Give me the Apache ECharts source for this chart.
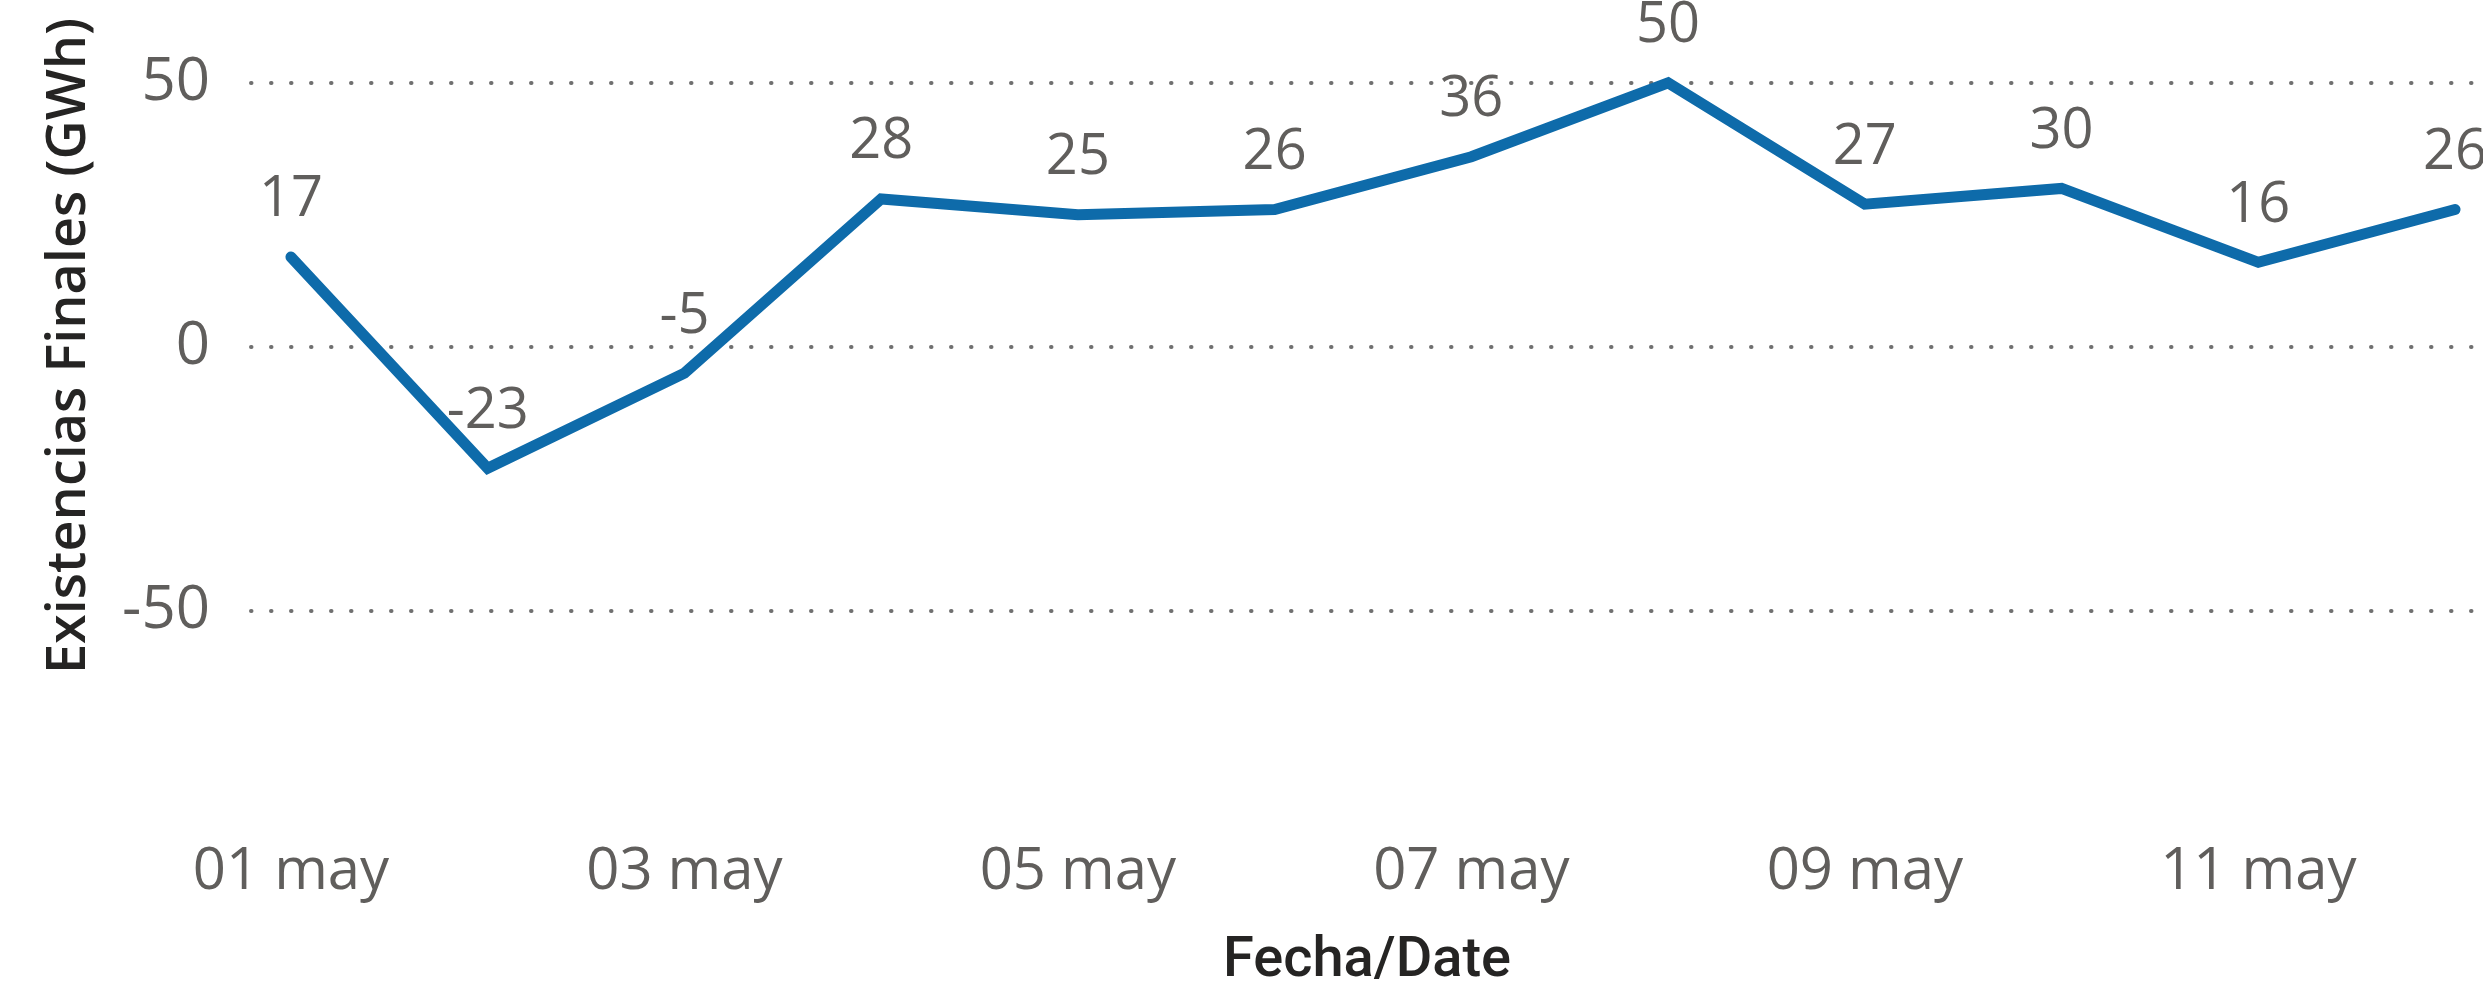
<!DOCTYPE html>
<html>
<head>
<meta charset="utf-8">
<title>Existencias Finales</title>
<script src="https://cdn.jsdelivr.net/npm/echarts@6/dist/echarts.min.js"></script>
<style>
  html, body { margin: 0; padding: 0; background: #fff; }
  #chart { width: 2483px; height: 995px; }
</style>
</head>
<body>
<div id="chart"></div>
<script>
// fechas (eje x) y existencias finales en GWh
const dates = ['01 may', '02 may', '03 may', '04 may', '05 may', '06 may',
               '07 may', '08 may', '09 may', '10 may', '11 may', '12 may'];
const values = [17, -23, -5, 28, 25, 26, 36, 50, 27, 30, 16, 26];
// marcas visibles en los ejes
const yTicks = [-50, 0, 50];
const xTicks = [0, 2, 4, 6, 8, 10];

const grey = '#605E5C';
const dark = '#252423';
const font = "'Segoe UI', 'Open Sans', sans-serif";

const chart = echarts.init(document.getElementById('chart'));

const option = {
  backgroundColor: '#fff',
  animation: false,
  grid: { left: 251, right: 0, top: 30, bottom: 164, containLabel: false },
  xAxis: {
    type: 'value',
    min: -0.203,
    max: 11.142,
    name: 'Fecha/Date',
    nameLocation: 'middle',
    nameGap: 112,
    nameTextStyle: { color: dark, fontSize: 56, fontFamily: 'Roboto', fontWeight: 500 },
    axisLine: { show: false },
    axisTick: { show: false, customValues: xTicks },
    splitLine: { show: false },
    axisLabel: {
      customValues: xTicks,
      color: grey,
      fontSize: 58,
      fontFamily: font,
      margin: 21,
      formatter: (v) => dates[Math.round(v)]
    }
  },
  yAxis: {
    type: 'value',
    min: -90,
    max: 60,
    name: 'Existencias Finales (GWh)',
    nameLocation: 'middle',
    nameGap: 154,
    nameTextStyle: {
      color: dark, fontSize: 54, fontFamily: font, fontWeight: 600,
      padding: [0, 0, 0, 160]
    },
    axisLine: { show: false },
    axisTick: { show: false, customValues: yTicks },
    axisLabel: {
      customValues: yTicks,
      color: grey,
      fontSize: 60,
      fontFamily: font,
      margin: 41
    },
    splitLine: {
      show: true,
      lineStyle: { color: '#707070', width: 4, type: [0.5, 19.5], cap: 'round' }
    }
  },
  series: [{
    type: 'line',
    data: values.map((v, i) => [i, v]),
    symbol: 'circle',
    symbolSize: 1,
    showSymbol: true,
    itemStyle: { color: '#0E6BAA' },
    lineStyle: { color: '#0E6BAA', width: 11, cap: 'round', join: 'miter' },
    label: {
      show: true,
      position: 'top',
      distance: 28,
      color: grey,
      fontSize: 56,
      fontFamily: font,
      formatter: (p) => p.value[1]
    }
  }]
};

chart.setOption(option);
window.addEventListener('resize', () => chart.resize());
</script>
</body>
</html>
